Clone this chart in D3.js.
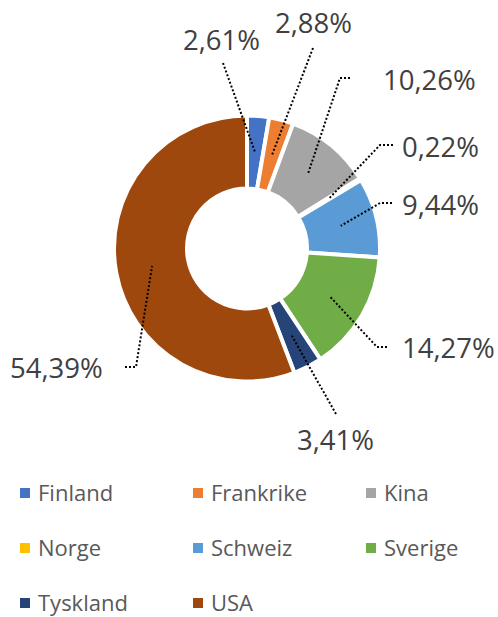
<!DOCTYPE html>
<html>
<head>
<meta charset="utf-8">
<script src="https://cdn.jsdelivr.net/npm/d3@7/dist/d3.min.js"></script>
<style>
  html, body { margin: 0; padding: 0; background: #fff; }
  svg { display: block; font-family: "Open Sans", "Noto Sans", sans-serif; }
</style>
</head>
<body>
<svg id="chart" width="498" height="617"></svg>
<script>
// ---- data ----
const categories = ["Finland", "Frankrike", "Kina", "Norge", "Schweiz", "Sverige", "Tyskland", "USA"];
const values = [2.61, 2.88, 10.26, 0.22, 9.44, 14.27, 3.41, 54.39];
const valueLabels = ["2,61%", "2,88%", "10,26%", "0,22%", "9,44%", "14,27%", "3,41%", "54,39%"];
const colors = ["#4472C4", "#ED7D31", "#A5A5A5", "#FFC000", "#5B9BD5", "#70AD47", "#264478", "#9E480E"];

// ---- layout (label placement, leader elbows) ----
const labelPos = [[183, 50], [275, 33], [383, 90], [402, 157], [402, 215], [402, 358], [297, 450], [10, 378]];
const leaderOuter = [
  [[223, 63]],
  [[313, 48]],
  [[350, 78], [340, 78]],
  [[393, 145], [380, 145]],
  [[392, 203], [380, 203]],
  [[387, 347], [377, 347]],
  [[336, 414]],
  [[125, 367], [136, 367]]
];

const svg = d3.select("#chart");
const cx = 247, cy = 248.5, rOuter = 133, rInner = 60;

const data = categories.map((c, i) => ({ name: c, value: values[i], label: valueLabels[i], color: colors[i] }));
const pie = d3.pie().sort(null).value(d => d.value).startAngle(0).endAngle(2 * Math.PI);
const arcs = pie(data);
const arc = d3.arc().innerRadius(rInner).outerRadius(rOuter);
const midArc = d3.arc().innerRadius(96.5).outerRadius(96.5);

const g = svg.append("g").attr("transform", `translate(${cx},${cy})`);
g.selectAll("path.slice").data(arcs).enter().append("path")
  .attr("class", "slice")
  .attr("d", arc)
  .attr("fill", d => d.data.color)
  .attr("stroke", "#fff")
  .attr("stroke-width", 4)
  .attr("stroke-linejoin", "miter");

// leader lines
const line = d3.line();
arcs.forEach((d, i) => {
  const c = midArc.centroid(d);
  const pts = leaderOuter[i].map(p => [p[0], p[1]]).concat([[c[0] + cx, c[1] + cy]]);
  svg.append("path")
    .attr("d", line(pts))
    .attr("fill", "none")
    .attr("stroke", "#000")
    .attr("stroke-width", 2)
    .attr("stroke-dasharray", "2,2");
});

// value labels
svg.selectAll("text.vlab").data(arcs).enter().append("text")
  .attr("class", "vlab")
  .attr("x", (d, i) => labelPos[i][0])
  .attr("y", (d, i) => labelPos[i][1])
  .attr("font-size", 27.5)
  .attr("fill", "#404040")
  .text(d => d.data.label);

// legend
const colX = [20, 193, 366];
const rowY = [493, 548, 603];
const leg = svg.selectAll("g.leg").data(data).enter().append("g")
  .attr("class", "leg")
  .attr("transform", (d, i) => `translate(${colX[i % 3]},${rowY[Math.floor(i / 3)]})`);
leg.append("rect").attr("x", 0).attr("y", -5).attr("width", 10).attr("height", 10).attr("fill", d => d.color);
leg.append("text").attr("x", 18).attr("y", 0).attr("dy", "0.35em")
  .attr("font-size", 22).attr("fill", "#595959").text(d => d.name);
</script>
</body>
</html>
